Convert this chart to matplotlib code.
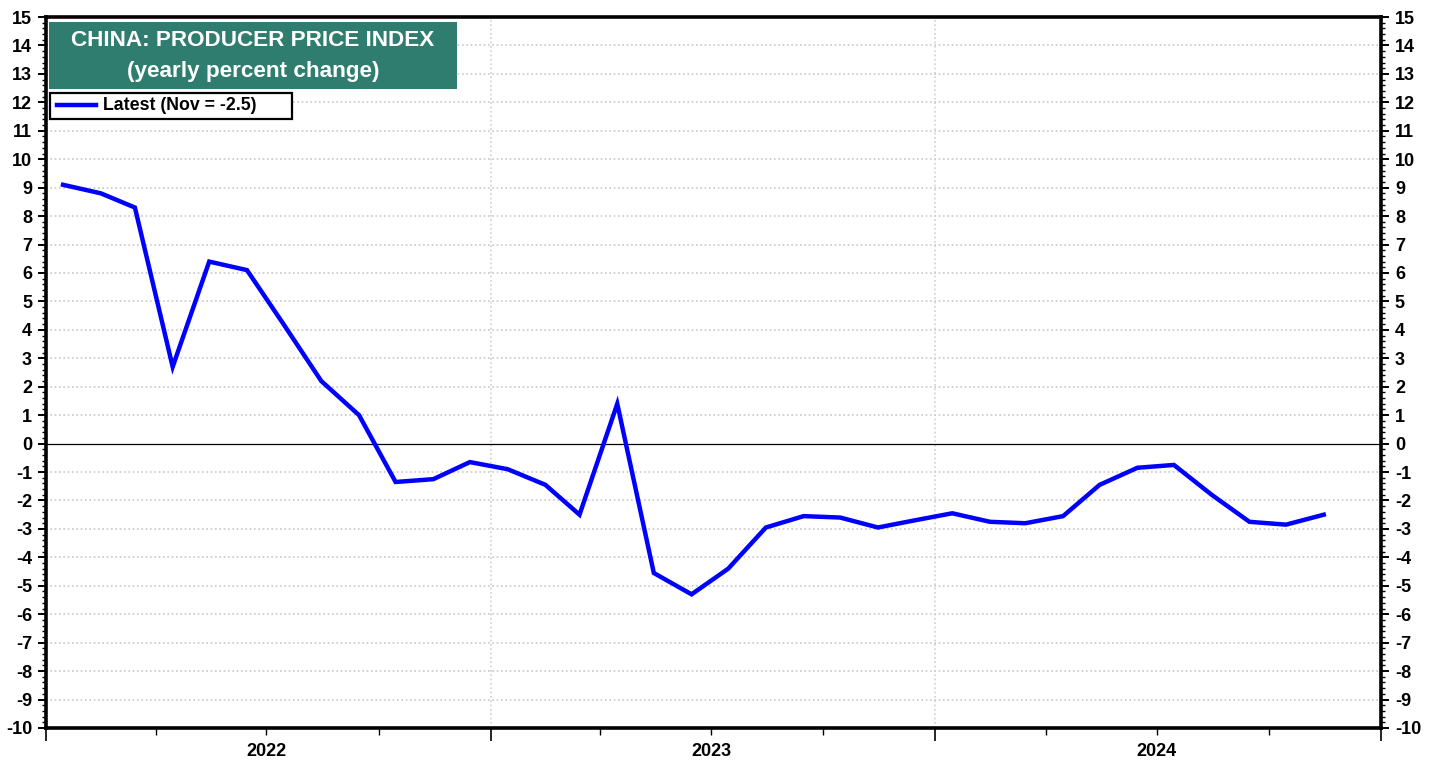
#!/usr/bin/env python3
from datetime import datetime

import matplotlib

matplotlib.use("Agg")
import matplotlib.dates as mdates
import matplotlib.pyplot as plt
import pandas as pd
from matplotlib.lines import Line2D
from matplotlib.patches import Rectangle
from matplotlib.ticker import FuncFormatter, MultipleLocator, NullFormatter

plt.rcParams["font.family"] = ["Liberation Sans", "DejaVu Sans"]
plt.rcParams["font.weight"] = "bold"
plt.rcParams["axes.unicode_minus"] = False

# monthly readings, Jan 2022 .. Nov 2024
months = pd.date_range("2022-01-01", "2024-11-01", freq="MS") + pd.Timedelta(days=14)
ppi = [
    9.1, 8.8, 8.3, 2.7, 6.4, 6.1, 4.2, 2.2, 1.0, -1.35, -1.25, -0.65,
    -0.9, -1.45, -2.5, 1.4, -4.55, -5.3, -4.4, -2.95, -2.55, -2.6, -2.95, -2.7,
    -2.45, -2.75, -2.8, -2.55, -1.45, -0.85, -0.75, -1.8, -2.75, -2.85, -2.5,
]
title_lines = ["CHINA: PRODUCER PRICE INDEX", "(yearly percent change)"]
legend_label = "Latest (Nov = -2.5)"

W, H = 1439, 760
fig = plt.figure(figsize=(W / 100, H / 100), dpi=100)
ax = fig.add_axes([46 / W, 1 - 728 / H, (1381 - 46) / W, (728 - 17) / H])

ax.plot(months, ppi, color="#0000ff", lw=3.2, solid_joinstyle="miter", zorder=3)
ax.axhline(0, color="black", lw=0.9, zorder=2)

ax.set_xlim(datetime(2022, 1, 1), datetime(2025, 1, 1))
ax.set_ylim(-10, 15)

ax.yaxis.set_major_locator(MultipleLocator(1))
ax.yaxis.set_minor_locator(MultipleLocator(0.2))
for y in range(-10, 16):
    if y not in (0, -10, 15):
        ax.axhline(y, color="#c8c8c8", lw=1.2, ls=(0, (1, 1.6)), zorder=1)
for yr in (2023, 2024):
    ax.axvline(datetime(yr, 1, 1), color="#cfcfcf", lw=1.2, ls=(0, (1, 1.6)), zorder=1)

ax.xaxis.set_major_locator(mdates.YearLocator())
ax.xaxis.set_minor_locator(mdates.MonthLocator([4, 7, 10]))
ax.xaxis.set_major_formatter(NullFormatter())
ax.xaxis.set_minor_formatter(
    FuncFormatter(lambda v, p: mdates.num2date(v).strftime("%Y") if mdates.num2date(v).month == 7 else "")
)

ax.tick_params(axis="y", which="both", left=True, right=True, labelleft=True, labelright=True,
               direction="out", labelsize=13, pad=4)
ax.tick_params(axis="y", which="major", length=6, width=1.4)
ax.tick_params(axis="y", which="minor", length=3, width=1.0)
ax.tick_params(axis="x", which="major", length=9, width=1.2, direction="out")
ax.tick_params(axis="x", which="minor", length=5, width=1.0, direction="out", labelsize=13, pad=6)

for s in ax.spines.values():
    s.set_linewidth(2.6)

# title box
fig.patches.append(Rectangle((49 / W, 1 - 89 / H), (457 - 49) / W, (89 - 22) / H,
                             transform=fig.transFigure, facecolor="#2f7d6f", edgecolor="none", zorder=5))
fig.text(253 / W, 1 - 40 / H, title_lines[0], color="white", fontsize=16.2, fontweight="bold",
         ha="center", va="center", zorder=6)
fig.text(253 / W, 1 - 72 / H, title_lines[1], color="white", fontsize=16.2, fontweight="bold",
         ha="center", va="center", zorder=6)

# legend box
fig.patches.append(Rectangle((50 / W, 1 - 119 / H), (292 - 50) / W, (119 - 93) / H,
                             transform=fig.transFigure, facecolor="white", edgecolor="black", lw=1.6, zorder=5))
fig.lines.append(Line2D([57 / W, 96 / W], [1 - 105 / H, 1 - 105 / H], transform=fig.transFigure,
                        color="#0000ff", lw=3.2, zorder=6))
fig.text(103 / W, 1 - 105 / H, legend_label, fontsize=12.8, fontweight="bold", ha="left", va="center", zorder=6)

fig.savefig("out.png", dpi=100)
